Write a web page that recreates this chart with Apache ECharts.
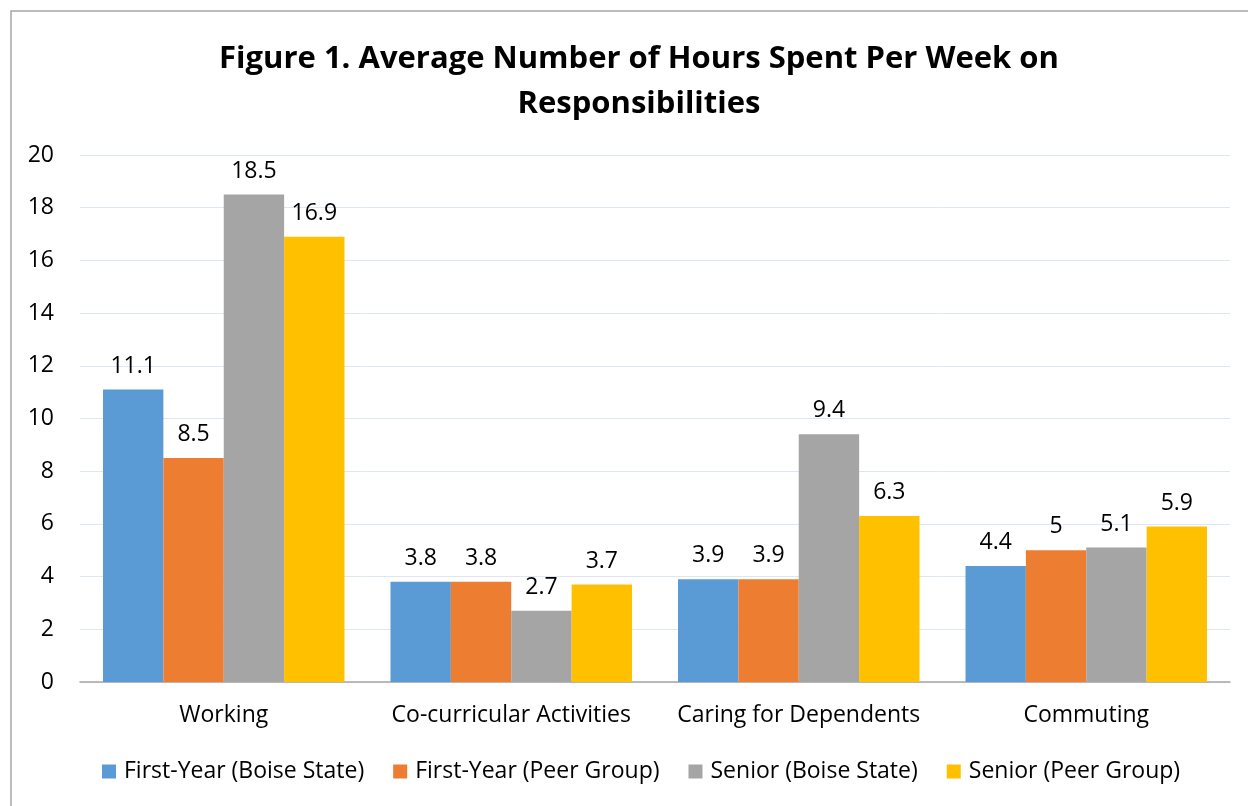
<!DOCTYPE html>
<html>
<head>
<meta charset="utf-8">
<script src="https://cdn.jsdelivr.net/npm/echarts@6/dist/echarts.min.js"></script>
<style>html,body{margin:0;padding:0;background:#fff}#c{width:1248px;height:806px}</style>
</head>
<body>
<div id="c"></div>
<script>
const categories = ['Working', 'Co-curricular Activities', 'Caring for Dependents', 'Commuting'];
const seriesNames = ['First-Year (Boise State)', 'First-Year (Peer Group)', 'Senior (Boise State)', 'Senior (Peer Group)'];
const firstYearBoise = [11.1, 3.8, 3.9, 4.4];
const firstYearPeer = [8.5, 3.8, 3.9, 5];
const seniorBoise = [18.5, 2.7, 9.4, 5.1];
const seniorPeer = [16.9, 3.7, 6.3, 5.9];
const colors = ['#5b9bd5', '#ed7d31', '#a5a5a5', '#ffc000'];

const FONT = '"Open Sans", "Liberation Sans", sans-serif';
const allData = [firstYearBoise, firstYearPeer, seniorBoise, seniorPeer];

const chart = echarts.init(document.getElementById('c'));
chart.setOption({
  animation: false,
  textStyle: { fontFamily: FONT },
  title: {
    text: 'Figure 1. Average Number of Hours Spent Per Week on\nResponsibilities',
    left: 634, textAlign: 'center', top: 32,
    textStyle: { fontFamily: FONT, fontSize: 31, fontWeight: 'bold', color: '#000', lineHeight: 45 }
  },
  graphic: [{
    type: 'rect', shape: { x: 11, y: 11, width: 1400, height: 1000 },
    style: { fill: 'none', stroke: '#a6a6a6', lineWidth: 1.5 }, silent: true
  }],
  legend: {
    bottom: 18, left: 97, itemWidth: 14, itemHeight: 14, itemGap: 29,
    icon: 'rect',
    textStyle: { fontFamily: FONT, fontSize: 23, color: '#000', padding: [0, 0, 0, 3] },
    data: seriesNames
  },
  grid: { left: 80, right: 18, top: 155, bottom: 124 },
  xAxis: {
    type: 'category', data: categories,
    axisLine: { lineStyle: { color: '#a6a6a6', width: 1.5 } },
    axisTick: { show: false },
    axisLabel: { fontFamily: FONT, fontSize: 23, color: '#000', margin: 22, interval: 0 }
  },
  yAxis: {
    type: 'value', min: 0, max: 20, interval: 2,
    axisLine: { show: false }, axisTick: { show: false },
    axisLabel: { fontFamily: FONT, fontSize: 23, color: '#000', margin: 26, align: 'right' },
    splitLine: { lineStyle: { color: '#dde7f2', width: 1 } }
  },
  series: seriesNames.map((name, i) => ({
    name, type: 'bar', data: allData[i],
    barGap: '0%', barCategoryGap: '16%',
    itemStyle: { color: colors[i] },
    label: { show: true, position: 'top', distance: 12, fontFamily: FONT, fontSize: 23, color: '#000' }
  }))
});
</script>
</body>
</html>
